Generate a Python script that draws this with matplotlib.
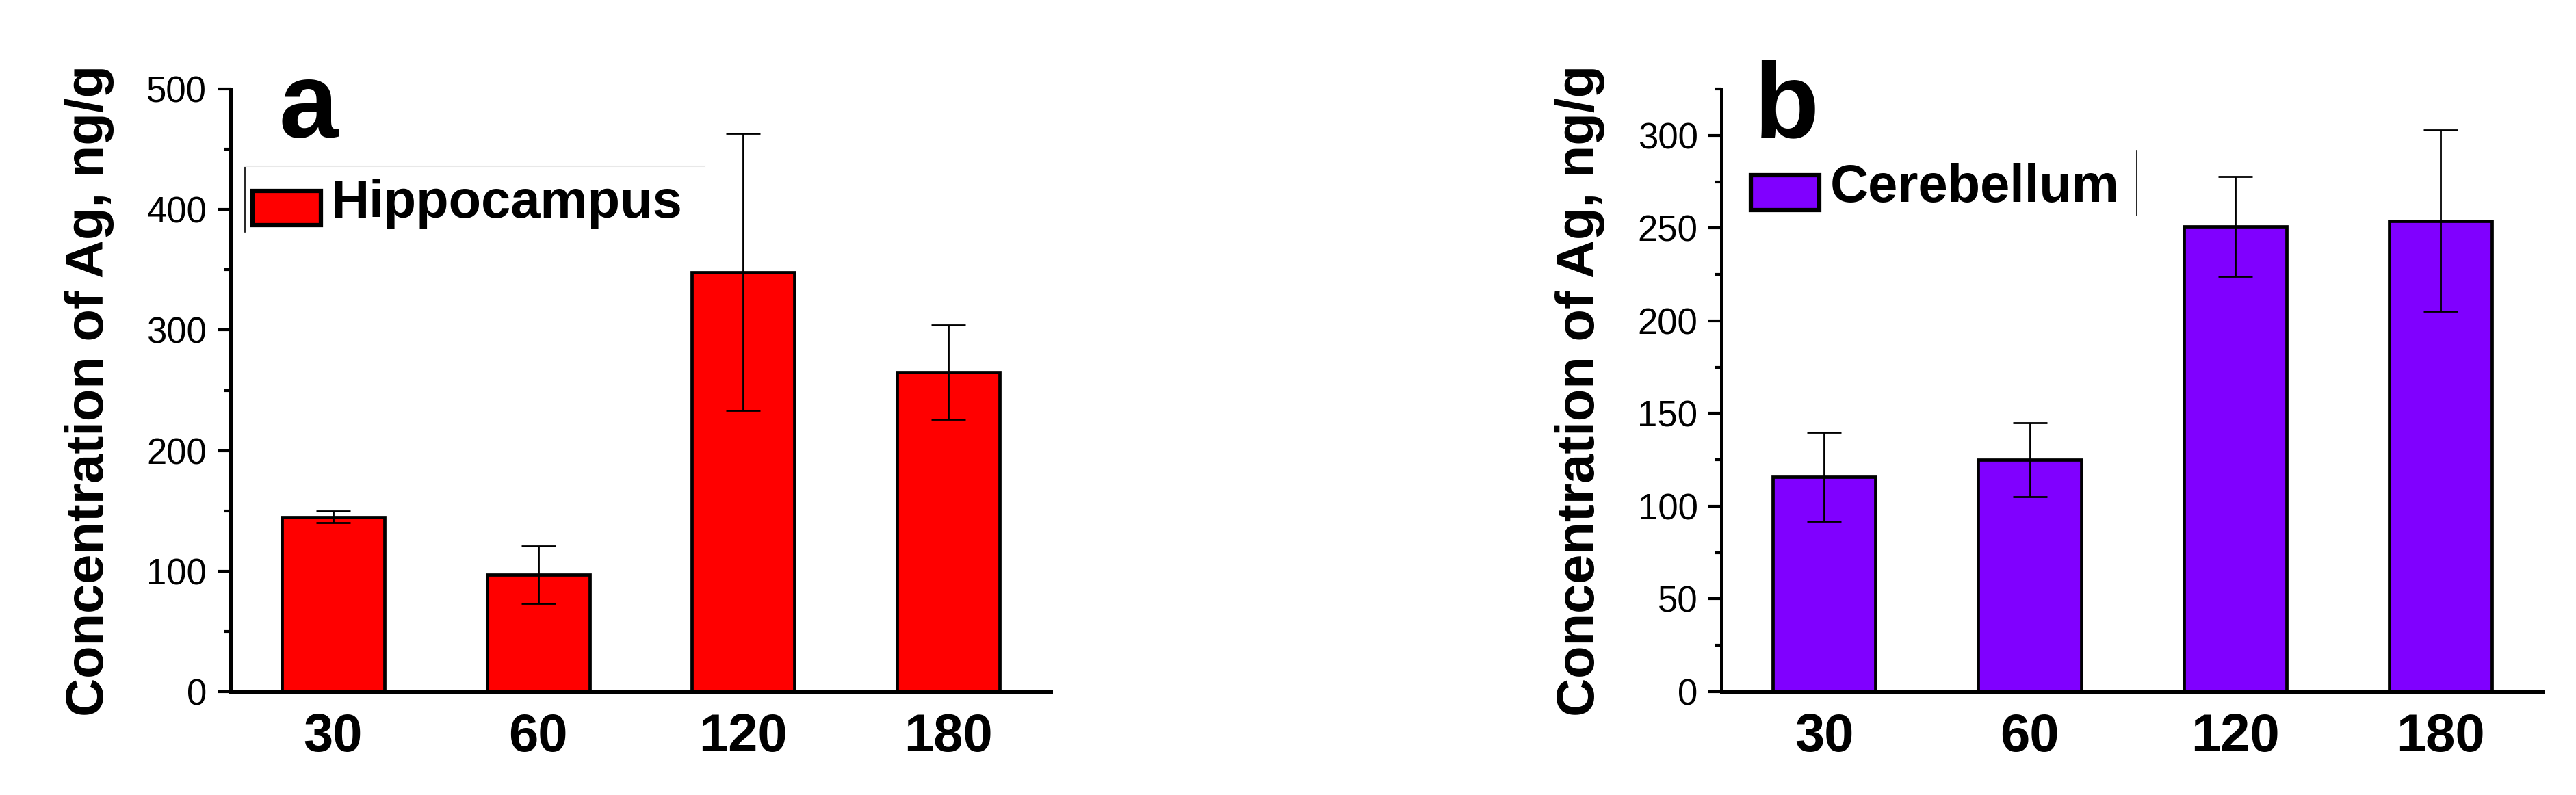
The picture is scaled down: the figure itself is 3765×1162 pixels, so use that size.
import numpy as np
import matplotlib
matplotlib.use("Agg")
import matplotlib.pyplot as plt
import matplotlib.patches as mpatches
from matplotlib.legend_handler import HandlerPatch
from matplotlib.ticker import MultipleLocator

plt.rcParams['font.family'] = ['Liberation Sans', 'DejaVu Sans']

# time points (min)
tempos = ['30', '60', '120', '180']

# hipocampo
hipo_media = [145, 97, 348, 265]
hipo_erro = [5, 24, 115, 39]

# cerebelo
cereb_media = [116, 125, 251, 254]
cereb_erro = [24, 20, 27, 49]

cor_hipo = '#FF0000'
cor_cereb = '#8000FF'

fig = plt.figure(figsize=(37.65, 11.62), dpi=100)
ax_a = fig.add_axes([0.0895, 0.13, 0.3185, 0.758])
ax_b = fig.add_axes([0.6683, 0.13, 0.319, 0.758])


# retangulo da legenda um pouco abaixo, como no original
def retangulo(legend, orig_handle, xdescent, ydescent, width, height, fontsize):
    return mpatches.Rectangle((-xdescent, -ydescent - 0.17 * fontsize), width, height)


def painel(ax, medias, erros, cor, nome, ymax, major, minor, letra, leg_xy, letra_x):
    x = np.arange(len(tempos))
    barras = ax.bar(x, medias, width=0.5, color=cor, edgecolor='black', linewidth=3.4,
                    zorder=2)
    ax.errorbar(x, medias, yerr=erros, fmt='none', ecolor='black',
                elinewidth=2.0, capsize=18, capthick=2.0, zorder=3)
    ax.set_xlim(-0.5, 3.5)
    ax.set_ylim(0, ymax)
    ax.set_xticks(x)
    ax.set_xticklabels(tempos, fontsize=56, fontweight='bold')
    ax.yaxis.set_major_locator(MultipleLocator(major))
    ax.yaxis.set_minor_locator(MultipleLocator(minor))
    ax.tick_params(axis='x', length=0, pad=22)
    ax.tick_params(axis='y', which='major', labelsize=38, length=14, width=3, pad=11)
    ax.tick_params(axis='y', which='minor', length=7, width=3)
    for s in ['top', 'right']:
        ax.spines[s].set_visible(False)
    for s in ['left', 'bottom']:
        ax.spines[s].set_linewidth(3.6)
    ax.set_ylabel('Concentration of Ag, ng/g', fontsize=56, fontweight='bold', labelpad=34)
    ax.text(letra_x, 0.9205, letra, transform=ax.transAxes, fontsize=112,
            fontweight='bold', ha='left', va='baseline')
    leg = ax.legend([barras.patches[0]], [nome], loc='upper left',
                    bbox_to_anchor=leg_xy, frameon=False,
                    prop={'size': 56, 'weight': 'bold'}, handlelength=1.28,
                    handleheight=0.62, handletextpad=0.2, borderpad=0,
                    borderaxespad=0,
                    handler_map={mpatches.Rectangle: HandlerPatch(patch_func=retangulo)})
    for h in leg.legend_handles:
        h.set_linewidth(4.5)
    return leg


painel(ax_a, hipo_media, hipo_erro, cor_hipo, 'Hippocampus', 500, 100, 50,
       'a', (0.0267, 0.851), 0.059)
painel(ax_b, cereb_media, cereb_erro, cor_cereb, 'Cerebellum', 325, 50, 25,
       'b', (0.0358, 0.877), 0.040)

# restos da moldura da legenda, como no original
ax_a.plot([0.0175, 0.0175], [0.763, 0.871], color='black', lw=1.2,
          transform=ax_a.transAxes, clip_on=False)
ax_a.plot([0.0175, 0.578], [0.872, 0.872], color='#e8e8e8', lw=1.5,
          transform=ax_a.transAxes, clip_on=False)
ax_b.plot([0.505, 0.505], [0.790, 0.898], color='black', lw=1.2,
          transform=ax_b.transAxes, clip_on=False)

fig.savefig('out.png', dpi=100, facecolor='white')
